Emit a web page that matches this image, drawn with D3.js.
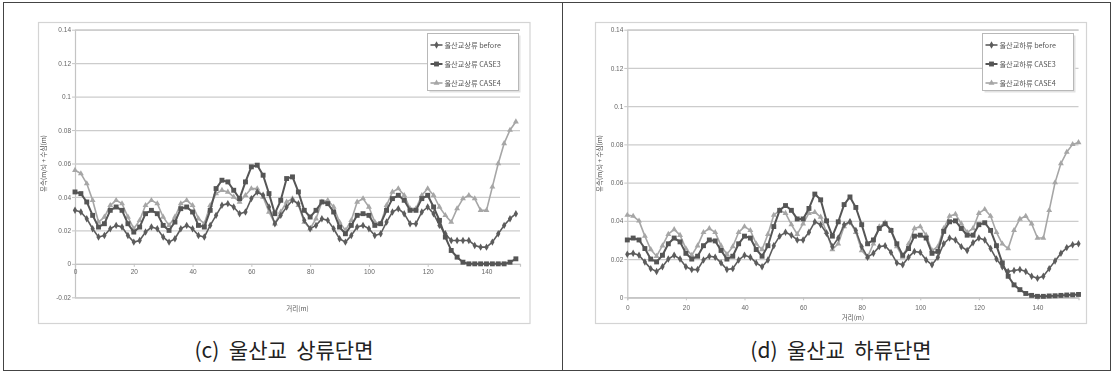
<!DOCTYPE html>
<html><head><meta charset="utf-8">
<script src="https://cdn.jsdelivr.net/npm/d3@7"></script>
<style>body{margin:0;background:#fff}svg{display:block}</style>
</head><body>
<svg id="c" width="1114" height="381"></svg>
<script>
// ---------- DATA ----------
const seriesNamesC = ["울산교상류 before", "울산교상류 CASE3", "울산교상류 CASE4"];
const seriesNamesD = ["울산교하류 before", "울산교하류 CASE3", "울산교하류 CASE4"];
const captionC = "(c)  울산교  상류단면";
const captionD = "(d)  울산교  하류단면";
const xTitle = "거리(m)";
const yTitle = "유속(m/s) + 수심(m)";
const xTickValues = [0, 20, 40, 60, 80, 100, 120, 140];
const yTickValuesC = [-0.02, 0, 0.02, 0.04, 0.06, 0.08, 0.1, 0.12, 0.14];
const yTickValuesD = [0, 0.02, 0.04, 0.06, 0.08, 0.1, 0.12, 0.14];

const stationsC = [0,2,4,6,8,10,12,14,16,18,
  20,22,24,26,28,30,32,34,36,38,
  40,42,44,46,48,50,52,54,56,58,
  60,62,64,66,68,70,72,74,76,78,
  80,82,84,86,88,90,92,94,96,98,
  100,102,104,106,108,110,112,114,116,118,
  120,122,124,126,128,130,132,134,136,138,
  140,142,144,146,148,150];
const beforeC = [0.032,0.031,0.027,0.021,0.016,0.017,0.021,0.023,0.022,0.017,
  0.013,0.014,0.019,0.022,0.021,0.016,0.013,0.015,0.021,0.023,
  0.021,0.017,0.016,0.023,0.029,0.035,0.036,0.034,0.030,0.031,
  0.039,0.043,0.041,0.034,0.024,0.029,0.034,0.038,0.036,0.026,
  0.021,0.023,0.027,0.026,0.021,0.015,0.013,0.017,0.022,0.023,
  0.021,0.017,0.018,0.025,0.031,0.033,0.030,0.024,0.024,0.031,
  0.034,0.030,0.023,0.018,0.014,0.014,0.014,0.014,0.011,0.010,
  0.010,0.013,0.018,0.023,0.027,0.030];
const case3C = [0.043,0.042,0.037,0.029,0.022,0.024,0.032,0.034,0.032,0.024,
  0.019,0.022,0.030,0.032,0.030,0.023,0.020,0.025,0.033,0.034,
  0.031,0.023,0.022,0.032,0.045,0.050,0.049,0.044,0.039,0.049,
  0.058,0.059,0.053,0.042,0.030,0.038,0.051,0.052,0.043,0.032,
  0.028,0.032,0.037,0.036,0.031,0.022,0.018,0.023,0.029,0.030,
  0.029,0.023,0.024,0.032,0.039,0.041,0.038,0.032,0.032,0.039,
  0.041,0.034,0.026,0.016,0.008,0.004,0.001,0.000,0.000,0.000,
  0.000,0.000,0.000,0.000,0.001,0.003];
const case4C = [0.056,0.054,0.048,0.038,0.025,0.028,0.035,0.038,0.036,0.028,
  0.021,0.026,0.035,0.038,0.036,0.028,0.023,0.028,0.036,0.038,
  0.035,0.027,0.024,0.035,0.042,0.044,0.043,0.040,0.037,0.041,
  0.045,0.045,0.040,0.031,0.024,0.031,0.037,0.039,0.035,0.025,
  0.021,0.027,0.037,0.038,0.034,0.025,0.020,0.026,0.037,0.039,
  0.034,0.025,0.024,0.035,0.043,0.045,0.041,0.033,0.033,0.041,
  0.045,0.041,0.034,0.029,0.025,0.033,0.039,0.041,0.039,0.032,
  0.032,0.046,0.060,0.072,0.080,0.085];

const stationsD = [0,2,4,6,8,10,12,14,16,18,
  20,22,24,26,28,30,32,34,36,38,
  40,42,44,46,48,50,52,54,56,58,
  60,62,64,66,68,70,72,74,76,78,
  80,82,84,86,88,90,92,94,96,98,
  100,102,104,106,108,110,112,114,116,118,
  120,122,124,126,128,130,132,134,136,138,
  140,142,144,146,148,150,152,154];
const beforeD = [0.0225,0.023,0.022,0.0185,0.015,0.0135,0.016,0.020,0.022,0.020,
  0.016,0.0145,0.0145,0.0195,0.0215,0.021,0.018,0.0145,0.015,0.0195,
  0.022,0.021,0.018,0.016,0.0195,0.027,0.032,0.034,0.0325,0.030,
  0.030,0.034,0.0395,0.038,0.0335,0.0265,0.031,0.038,0.0395,0.035,
  0.0265,0.021,0.023,0.0265,0.027,0.0235,0.018,0.017,0.021,0.024,
  0.0235,0.0195,0.017,0.021,0.028,0.031,0.030,0.0265,0.0245,0.0285,
  0.031,0.030,0.0255,0.020,0.016,0.0135,0.014,0.0145,0.0135,0.011,
  0.010,0.011,0.015,0.019,0.023,0.026,0.0275,0.028];
const case3D = [0.030,0.031,0.030,0.0255,0.020,0.0185,0.022,0.028,0.031,0.029,
  0.023,0.020,0.0215,0.027,0.030,0.0295,0.0245,0.020,0.0215,0.028,
  0.032,0.031,0.025,0.0215,0.027,0.037,0.0455,0.048,0.0455,0.041,
  0.041,0.0465,0.054,0.051,0.040,0.032,0.0395,0.0485,0.0525,0.047,
  0.038,0.028,0.030,0.036,0.0385,0.035,0.028,0.022,0.0255,0.032,
  0.0325,0.031,0.023,0.024,0.0345,0.0395,0.040,0.036,0.0325,0.0325,
  0.038,0.039,0.035,0.027,0.018,0.011,0.0065,0.004,0.002,0.001,
  0.0005,0.0005,0.0007,0.0008,0.001,0.0012,0.0013,0.0015];
const case4D = [0.043,0.0425,0.040,0.032,0.025,0.0215,0.027,0.033,0.0355,0.0325,
  0.0255,0.022,0.027,0.034,0.036,0.034,0.027,0.0225,0.0265,0.034,
  0.037,0.035,0.028,0.025,0.033,0.043,0.0455,0.044,0.038,0.033,
  0.0385,0.044,0.0445,0.042,0.034,0.025,0.028,0.037,0.0395,0.034,
  0.0245,0.021,0.028,0.037,0.039,0.035,0.0265,0.021,0.028,0.036,
  0.037,0.0325,0.0245,0.0265,0.036,0.0425,0.0435,0.0385,0.034,0.036,
  0.044,0.046,0.0425,0.034,0.028,0.0255,0.035,0.041,0.0425,0.0385,
  0.031,0.031,0.0455,0.060,0.070,0.076,0.080,0.081];

// ---------- DRAW ----------
const svg = d3.select("#c");
const FONT = "'Liberation Sans','DejaVu Sans',sans-serif";
const KFONT = "'Noto Sans CJK KR','Noto Sans',sans-serif";

const defs = svg.append("defs");
defs.append("filter").attr("id","soft").append("feGaussianBlur").attr("stdDeviation",0.35);

// outer frame and divider
svg.append("rect").attr("x",3.5).attr("y",2.5).attr("width",1107).attr("height",368)
  .attr("fill","none").attr("stroke","#444").attr("stroke-width",1);
svg.append("line").attr("x1",562.5).attr("x2",562.5).attr("y1",2.5).attr("y2",370.5)
  .attr("stroke","#444").attr("stroke-width",1);

const fmtY = v => v === 0 ? "0" : String(+v.toFixed(2));

const styles = [
  {color:"#5c5c5c", width:1.6, symbol:d3.symbolDiamond, size:16, fill:"#5c5c5c"},
  {color:"#555555", width:2.0, symbol:d3.symbolSquare, size:24, fill:"#555555"},
  {color:"#a6a6a6", width:1.6, symbol:d3.symbolTriangle, size:15, fill:"#a6a6a6"}
];

function drawPanel(cfg) {
  const g = svg.append("g");
  g.append("rect").attr("x",cfg.area[0]).attr("y",cfg.area[1]).attr("width",cfg.area[2]).attr("height",cfg.area[3])
    .attr("fill","#fff").attr("stroke","#d4d4d4").attr("stroke-width",1.2);
  const cg = g.append("g").attr("filter","url(#soft)");
  const x = d3.scaleLinear().domain(cfg.xDomain).range([cfg.left, cfg.right]);
  const y = d3.scaleLinear().domain(cfg.yDomain).range([cfg.bottom, cfg.top]);

  // grid + y labels
  const ya = cg.append("g").attr("transform",`translate(${cfg.left},0)`)
    .call(d3.axisLeft(y).tickValues(cfg.yTicks).tickSize(-(cfg.right-cfg.left)).tickPadding(4).tickFormat(fmtY));
  ya.select(".domain").attr("stroke","#c4c4c4").attr("stroke-width",1.2);
  ya.selectAll(".tick line").attr("stroke","#cccccc").attr("stroke-width",1.3);
  ya.selectAll(".tick text").attr("fill","#666").style("font-size","6.5px").style("font-family",FONT);
  cg.append("g").attr("transform",`translate(${cfg.left},0)`)
    .call(d3.axisLeft(y).tickValues(cfg.yTicks).tickSize(3).tickFormat(""))
    .call(s=>{s.select(".domain").remove(); s.selectAll("line").attr("stroke","#c4c4c4");});

  // x axis
  const xa = cg.append("g").attr("transform",`translate(0,${y(0)})`)
    .call(d3.axisBottom(x).tickValues(xTickValues).tickSize(3).tickPadding(cfg.xPad).tickFormat(d3.format("d")));
  xa.select(".domain").attr("stroke","#c4c4c4").attr("stroke-width",1.2);
  xa.selectAll(".tick line").attr("stroke","#c4c4c4");
  xa.selectAll(".tick text").attr("fill","#666").style("font-size","6.5px").style("font-family",FONT);

  // titles
  cg.append("text").attr("x",(cfg.left+cfg.right)/2).attr("y",cfg.xTitleY).attr("text-anchor","middle")
    .attr("fill","#555").style("font-size","6.5px").style("font-family",KFONT).text(xTitle);
  cg.append("text").attr("transform",`translate(${cfg.yTitleX},${(cfg.top+cfg.bottom)/2}) rotate(-90)`)
    .attr("text-anchor","middle").attr("fill","#555").style("font-size","6.5px").style("font-family",KFONT).text(yTitle);

  // series
  const order = [2,0,1];
  order.forEach(i => {
    const vals = cfg.series[i];
    const pts = cfg.stations.map((s,k)=>[s, vals[k]]);
    const st = styles[i];
    cg.append("path").datum(pts)
      .attr("d", d3.line().x(d=>x(d[0])).y(d=>y(d[1])))
      .attr("fill","none").attr("stroke",st.color).attr("stroke-width",st.width).attr("stroke-linejoin","round");
    cg.append("g").selectAll("path").data(pts).join("path")
      .attr("transform",d=>`translate(${x(d[0])},${y(d[1])})`)
      .attr("d", d3.symbol().type(st.symbol).size(st.size))
      .attr("fill",st.fill);
  });

  // legend
  const lg = cg.append("g");
  const L = cfg.legend;
  lg.append("rect").attr("x",L.x+2).attr("y",L.y+2).attr("width",L.w).attr("height",L.h).attr("fill","#e2e2e2");
  lg.append("rect").attr("x",L.x).attr("y",L.y).attr("width",L.w).attr("height",L.h)
    .attr("fill","#fff").attr("stroke","#b8b8b8").attr("stroke-width",1);
  cfg.names.forEach((nm,i)=>{
    const yy = L.rows[i];
    const st = styles[i];
    lg.append("line").attr("x1",L.x+3).attr("x2",L.x+15).attr("y1",yy).attr("y2",yy)
      .attr("stroke",st.color).attr("stroke-width",st.width);
    lg.append("path").attr("transform",`translate(${L.x+9},${yy})`)
      .attr("d", d3.symbol().type(st.symbol).size(st.size)).attr("fill",st.fill);
    lg.append("text").attr("x",L.x+17).attr("y",yy).attr("dy","0.35em")
      .attr("fill","#555").style("font-size","7.2px").style("font-family",KFONT).text(nm);
  });

  // caption
  g.append("text").attr("x",cfg.capX).attr("y",358).attr("text-anchor","middle")
    .attr("fill","#222").style("font-size","21px").style("font-family",KFONT)
    .style("white-space","pre").attr("xml:space","preserve").text(cfg.caption);
}

drawPanel({
  area:[38.5,22.5,491.5,301], left:75, right:520, top:29.7, bottom:297.3,
  xDomain:[0,151.4], yDomain:[-0.02,0.14], yTicks:yTickValuesC, xPad:3,
  xTitleY:311, yTitleX:46,
  stations:stationsC, series:[beforeC, case3C, case4C], names:seriesNamesC,
  legend:{x:427.5,y:33.5,w:91,h:57,rows:[45,64,83]},
  caption:captionC, capX:284
});
drawPanel({
  area:[595.5,22.5,491,301], left:627.3, right:1078.5, top:29.7, bottom:297.3,
  xDomain:[0,154], yDomain:[0,0.14], yTicks:yTickValuesD, xPad:5,
  xTitleY:320, yTitleX:602,
  stations:stationsD, series:[beforeD, case3D, case4D], names:seriesNamesD,
  legend:{x:982.5,y:33.5,w:91,h:57,rows:[45,64,83]},
  caption:captionD, capX:841
});
</script>
</body></html>
